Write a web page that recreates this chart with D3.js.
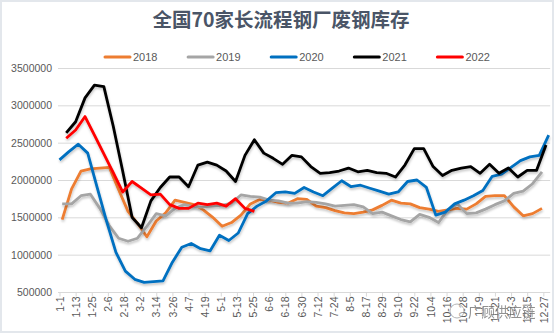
<!DOCTYPE html>
<html>
<head>
<meta charset="utf-8">
<script src="https://cdnjs.cloudflare.com/ajax/libs/d3/7.8.5/d3.min.js"></script>
<style>
  html, body { margin: 0; padding: 0; background: #e3e7ec; }
  svg { display: block; }
  .tick text { font-family: "Liberation Sans", Arial, sans-serif; }
</style>
</head>
<body>
<div id="chart"></div>
<script>
  // weekly stock (tons), one array per year
  var years = ['2018', '2019', '2020', '2021', '2022']
  var colors = ['#ED7D31', '#A5A5A5', '#0070C0', '#000000', '#FF0000']
  var firstWeek = ['1-3', '1-3', '1-1', '1-6', '1-6']

  var s2018 = [1470000, 1880000, 2120000, 2150000, 2160000, 2170000, 1870000, 1580000, 1420000, 1240000,
    1450000, 1560000, 1730000, 1700000, 1670000, 1600000, 1500000, 1380000, 1430000, 1530000,
    1680000, 1740000, 1730000, 1700000, 1690000, 1750000, 1740000, 1650000, 1630000, 1590000,
    1560000, 1550000, 1570000, 1600000, 1660000, 1730000, 1690000, 1680000, 1630000, 1610000,
    1580000, 1600000, 1620000, 1610000, 1680000, 1780000, 1790000, 1790000, 1640000, 1520000,
    1550000, 1620000]
  var s2019 = [1680000, 1680000, 1790000, 1810000, 1620000, 1390000, 1220000, 1180000, 1220000, 1380000,
    1550000, 1520000, 1620000, 1670000, 1640000, 1640000, 1650000, 1660000, 1690000, 1800000,
    1780000, 1770000, 1730000, 1720000, 1690000, 1690000, 1710000, 1700000, 1680000, 1650000,
    1660000, 1670000, 1640000, 1550000, 1570000, 1520000, 1470000, 1440000, 1540000, 1500000,
    1430000, 1600000, 1680000, 1550000, 1560000, 1610000, 1670000, 1720000, 1820000, 1850000,
    1950000, 2110000]
  var s2020 = [2270000, 2380000, 2480000, 2360000, 1900000, 1450000, 1030000, 780000, 670000, 630000,
    640000, 650000, 900000, 1100000, 1150000, 1080000, 1050000, 1260000, 1190000, 1290000,
    1550000, 1650000, 1720000, 1830000, 1840000, 1820000, 1900000, 1840000, 1790000, 1890000,
    1990000, 1910000, 1930000, 1890000, 1850000, 1810000, 1840000, 1980000, 2000000, 1900000,
    1530000, 1570000, 1680000, 1730000, 1790000, 1860000, 2050000, 2080000, 2170000, 2260000,
    2310000, 2330000, 2600000]
  var s2021 = [2630000, 2780000, 3100000, 3270000, 3250000, 2720000, 2120000, 1500000, 1360000, 1720000,
    1900000, 2040000, 2040000, 1910000, 2200000, 2240000, 2200000, 2120000, 1980000, 2330000,
    2540000, 2360000, 2290000, 2210000, 2330000, 2310000, 2180000, 2090000, 2100000, 2120000,
    2160000, 2110000, 2130000, 2100000, 2090000, 2040000, 2200000, 2420000, 2420000, 2180000,
    2060000, 2130000, 2160000, 2180000, 2090000, 2210000, 2090000, 2160000, 2040000, 2130000,
    2130000, 2470000]
  var s2022 = [2560000, 2670000, 2850000, 2600000, 2350000, 2100000, 1840000, 1980000, 1890000, 1800000,
    1810000, 1670000, 1620000, 1620000, 1690000, 1670000, 1690000, 1650000, 1750000, 1620000,
    1580000]
  var allSeries = [s2018, s2019, s2020, s2021, s2022]

  var dayLabels = ['1-1', '1-13', '1-25', '2-6', '2-18', '3-2', '3-14', '3-26', '4-7', '4-19',
    '5-1', '5-13', '5-25', '6-6', '6-18', '6-30', '7-12', '7-24', '8-5', '8-17', '8-29',
    '9-10', '9-22', '10-4', '10-16', '10-28', '11-9', '11-21', '12-3', '12-15', '12-27']
  var yTicks = [500000, 1000000, 1500000, 2000000, 2500000, 3000000, 3500000]

  var width = 554
  var height = 333

  // every year is laid on one shared calendar
  var parseDay = d => d3.timeParse('%Y-%m-%d')('2021-' + d)
  var fmtDay = d3.timeFormat('%-m-%-d')

  var x = d3.scaleTime()
    .domain([parseDay('1-1'), parseDay('12-31')])
    .range([59.5, 548.7])
  var y = d3.scaleLinear()
    .domain([500000, 3500000])
    .range([292, 68])

  var svg = d3.select('#chart')
    .append('svg')
    .attr('width', width)
    .attr('height', height)

  svg.append('rect')
    .attr('x', 2).attr('y', 2)
    .attr('width', width - 4).attr('height', height - 4)
    .attr('fill', '#fff')

  var defs = svg.append('defs')
  var shadow = defs.append('filter')
    .attr('id', 'shade')
    .attr('x', '-5%').attr('y', '-10%')
    .attr('width', '110%').attr('height', '125%')
  shadow.append('feDropShadow')
    .attr('dx', 0.5).attr('dy', 2)
    .attr('stdDeviation', 1.2)
    .attr('flood-color', '#000')
    .attr('flood-opacity', 0.22)

  // title
  svg.append('text')
    .attr('x', 281).attr('y', 27)
    .attr('text-anchor', 'middle')
    .attr('font-family', '"Noto Sans CJK SC", sans-serif')
    .attr('font-weight', 700)
    .attr('font-size', 19.5)
    .attr('fill', '#4a5567')
    .text('全国70家长流程钢厂废钢库存')

  // horizontal grid + y labels
  var gridX0 = x.range()[0] - 1.5
  var gridX1 = x.range()[1] + 1.5
  svg.append('g')
    .selectAll('line')
    .data(yTicks)
    .enter()
    .append('line')
    .attr('x1', gridX0).attr('x2', gridX1)
    .attr('y1', d => y(d) + 0.5).attr('y2', d => y(d) + 0.5)
    .attr('stroke', '#d9d9d9')
    .attr('stroke-width', 1)

  var yAxis = svg.append('g')
    .attr('transform', 'translate(' + (gridX0 - 6) + ',0)')
    .call(d3.axisLeft(y).tickValues(yTicks).tickSize(0).tickPadding(0).tickFormat(d3.format('d')))
  yAxis.select('.domain').remove()
  yAxis.selectAll('text')
    .attr('font-size', 10.5)
    .attr('fill', '#595959')

  // x axis, dates every 12 days
  var xAxis = svg.append('g')
    .attr('transform', 'translate(0,' + (y(500000) + 0.5) + ')')
    .call(d3.axisBottom(x)
      .tickValues(dayLabels.map(parseDay))
      .tickFormat(fmtDay)
      .tickSize(4))
  xAxis.select('.domain').remove()
  xAxis.selectAll('.tick line').attr('stroke', '#d9d9d9')
  xAxis.selectAll('text')
    .attr('font-size', 10.5)
    .attr('fill', '#595959')
    .attr('transform', 'rotate(-90)')
    .attr('x', -4)
    .attr('y', 0)
    .attr('dy', '0.35em')
    .style('text-anchor', 'end')

  // series lines
  var line = d3.line()
    .x(d => x(d.date))
    .y(d => y(d.value))
    .curve(d3.curveLinear)

  var seriesData = years.map((yr, k) => {
    var start = parseDay(firstWeek[k])
    return allSeries[k].map((v, i) => ({ date: d3.timeDay.offset(start, 7 * i), value: v }))
  })

  svg.append('g')
    .selectAll('path')
    .data(seriesData)
    .enter()
    .append('path')
    .attr('d', line)
    .attr('fill', 'none')
    .attr('stroke', (d, i) => colors[i])
    .attr('stroke-width', 2.8)
    .attr('stroke-linejoin', 'round')
    .attr('filter', 'url(#shade)')

  // legend
  var legend = svg.append('g')
    .selectAll('g')
    .data(years)
    .enter()
    .append('g')
    .attr('transform', (d, i) => 'translate(' + (105 + i * 83.1) + ',57)')
  legend.append('line')
    .attr('x1', 0).attr('x2', 25)
    .attr('stroke', (d, i) => colors[i])
    .attr('stroke-width', 3)
    .attr('stroke-linecap', 'round')
  legend.append('text')
    .attr('x', 28).attr('y', 4)
    .attr('font-family', '"Liberation Sans", Arial, sans-serif')
    .attr('font-size', 11)
    .attr('fill', '#595959')
    .text(d => d)

  // account mark in the corner
  var mark = svg.append('g').attr('opacity', 0.75)
  mark.append('circle')
    .attr('cx', 457).attr('cy', 311).attr('r', 7)
    .attr('fill', 'rgba(255,255,255,0.6)')
    .attr('stroke', '#9a9a9a').attr('stroke-width', 1)
  mark.append('text')
    .attr('x', 468).attr('y', 317)
    .attr('font-family', '"Noto Sans CJK SC", sans-serif')
    .attr('font-size', 13.5)
    .attr('fill', '#6b6b6b')
    .attr('stroke', '#fff').attr('stroke-width', 0.6)
    .attr('paint-order', 'stroke')
    .text('广顾供应链')
</script>
</body>
</html>
